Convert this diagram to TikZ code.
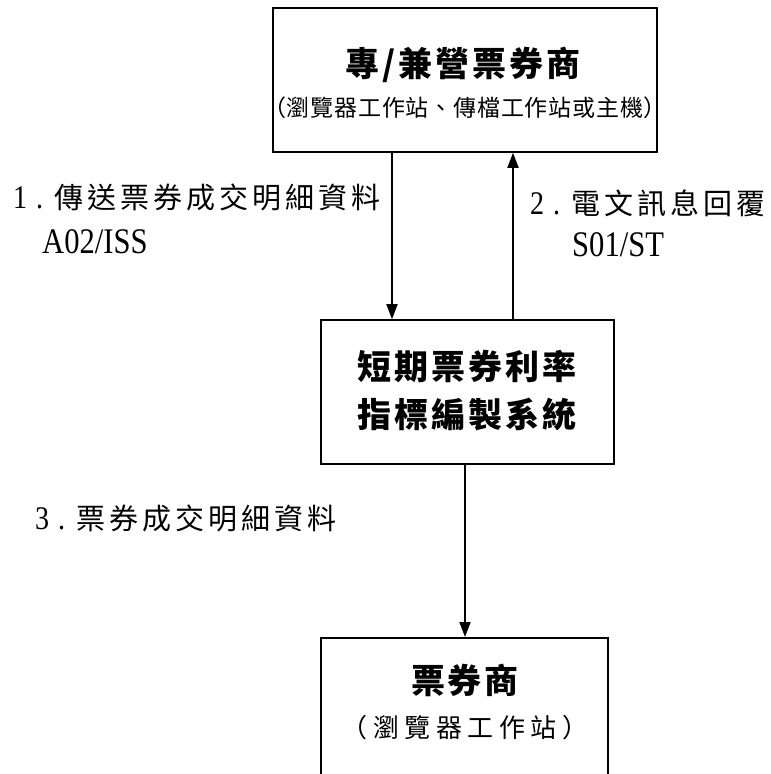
\documentclass[tikz,border=0pt]{standalone}
\usepackage{fontspec}
\setmainfont{Liberation Serif}
\newfontfamily\cjk{Noto Sans CJK TC}
\newfontfamily\lat[FakeStretch=0.85]{Liberation Serif}
\usetikzlibrary{arrows.meta}
\newdimen\lsp
\def\sptxt#1{\myspA#1\relax}
\def\myspA#1{\ifx\relax#1\else#1\expandafter\myspB\fi}
\def\myspB#1{\ifx\relax#1\else\kern\lsp#1\expandafter\myspB\fi}
\tikzset{
  box/.style={draw, line width=1.6pt, inner sep=0pt},
  conn/.style={line width=1.8pt, -{Triangle[length=15pt,width=11pt]}},
  txt/.style={inner sep=0pt},
  ttl/.style={txt, font=\cjk\bfseries\fontsize{34}{40}\selectfont},
  sub/.style={txt, font=\cjk\fontsize{23}{27}\selectfont},
  lbl/.style={txt, anchor=west},
  code/.style={txt, anchor=west, font=\lat\fontsize{36}{40}\selectfont}
}
\newcommand\cjklbl[1]{{\cjk\fontsize{29}{32}\selectfont\lsp=4pt\relax\sptxt{#1}}}
\newcommand\numlbl[1]{{\lat\fontsize{33}{36}\selectfont #1\hspace{9pt}.}\hspace{11pt}}
\begin{document}
\begin{tikzpicture}[x=1pt,y=-1pt]
\useasboundingbox (0,0) rectangle (771,774);
% boxes
\node[box, minimum width=384pt, minimum height=144pt] (top) at (465,80) {};
\node[box, minimum width=293pt, minimum height=144pt] (mid) at (467.5,392) {};
\node[box, minimum width=287pt, minimum height=180pt, anchor=north] (bot) at (464.5,637) {};
% box texts
\node[ttl] (topT) at (463,65) {\lsp=3pt\relax\sptxt{專/兼營票券商}};
\node[sub] (topS) at (465,108) {\lsp=0.8pt\relax\sptxt{（瀏覽器工作站、傳檔工作站或主機）}};
\node[ttl] (midA) at (467,367) {\lsp=3pt\relax\sptxt{短期票券利率}};
\node[ttl] (midB) at (467,415) {\lsp=3pt\relax\sptxt{指標編製系統}};
\node[ttl] (botT) at (465,680) {\lsp=3pt\relax\sptxt{票券商}};
\node[txt, font=\cjk\fontsize{26}{30}\selectfont] (botS) at (465,728) {\lsp=5.5pt\relax\sptxt{（瀏覽器工作站）}};
% connectors
\coordinate (a1) at (392,0);
\coordinate (a2) at (513,0);
\coordinate (a3) at (465,0);
\draw[conn] (top.south -| a1) -- (mid.north -| a1);
\draw[conn] (mid.north -| a2) -- (top.south -| a2);
\draw[conn] (mid.south -| a3) -- (bot.north -| a3);
% labels
\node[lbl] (l1) at (13,197) {\numlbl{1}\cjklbl{傳送票券成交明細資料}};
\node[code] (l1b) at (42,242) {A02/ISS};
\node[lbl] (l2) at (530,203) {\numlbl{2}\cjklbl{電文訊息回覆}};
\node[code] (l2b) at (572,245) {S01/ST};
\node[lbl] (l3) at (35,518) {\numlbl{3}\cjklbl{票券成交明細資料}};
\end{tikzpicture}
\end{document}
